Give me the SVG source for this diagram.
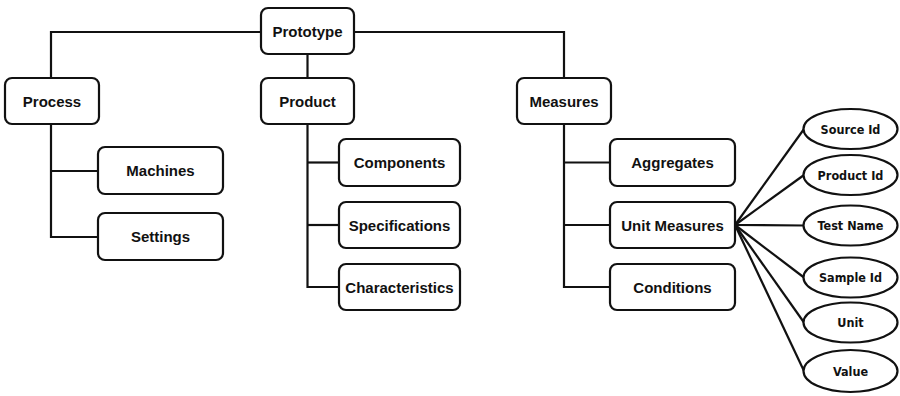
<svg xmlns="http://www.w3.org/2000/svg" width="900" height="396" viewBox="0 0 900 396">
<style>
.box{fill:#fff;stroke:#111;stroke-width:2.2}
.ell{fill:#fff;stroke:#111;stroke-width:2.2}
.lbl{font-family:"Liberation Sans",Arial,sans-serif;font-weight:bold;font-size:15px;fill:#111;text-anchor:middle;dominant-baseline:central}
.el{font-family:"DejaVu Sans Condensed","DejaVu Sans",Verdana,sans-serif;font-stretch:condensed;font-weight:bold;font-size:12.5px;fill:#111;text-anchor:middle;dominant-baseline:central}
.con{fill:none;stroke:#111;stroke-width:2.2}
</style>
<rect width="900" height="396" fill="#fff"/>
<g id="connectors" class="con">
<path d="M51,78 V32 H261"/>
<path d="M354,32 H564 V78"/>
<path d="M307.5,54 V78"/>
<path d="M51,124 V237 H98"/>
<path d="M51,171 H98"/>
<path d="M307.5,124 V287 H339"/>
<path d="M307.5,162.5 H339"/>
<path d="M307.5,225 H339"/>
<path d="M564,124 V287 H610"/>
<path d="M564,162.5 H610"/>
<path d="M564,225 H610"/>
<path d="M735,225 L804,129"/>
<path d="M735,225 L804,175"/>
<path d="M735,225 L804,225.5"/>
<path d="M735,225 L804,277.5"/>
<path d="M735,225 L804,322.5"/>
<path d="M735,225 L804,371"/>
</g>
<g id="prototype"><rect class="box" x="261" y="8" width="93" height="46" rx="7"/><text class="lbl" x="307.5" y="31">Prototype</text></g>
<g id="process"><rect class="box" x="5" y="78" width="94" height="46" rx="7"/><text class="lbl" x="52" y="101">Process</text></g>
<g id="product"><rect class="box" x="261" y="78" width="93" height="46" rx="7"/><text class="lbl" x="307.5" y="101">Product</text></g>
<g id="measures"><rect class="box" x="517" y="78" width="94" height="46" rx="7"/><text class="lbl" x="564" y="101">Measures</text></g>
<g id="machines"><rect class="box" x="98" y="147" width="125" height="47" rx="7"/><text class="lbl" x="160.5" y="170.5">Machines</text></g>
<g id="settings"><rect class="box" x="98" y="213" width="125" height="47" rx="7"/><text class="lbl" x="160.5" y="236.5">Settings</text></g>
<g id="components"><rect class="box" x="339" y="139" width="121" height="47" rx="7"/><text class="lbl" x="399.5" y="162.5">Components</text></g>
<g id="specifications"><rect class="box" x="339" y="202" width="121" height="46" rx="7"/><text class="lbl" x="399.5" y="225">Specifications</text></g>
<g id="characteristics"><rect class="box" x="339" y="264" width="121" height="46" rx="7"/><text class="lbl" x="399.5" y="287">Characteristics</text></g>
<g id="aggregates"><rect class="box" x="610" y="139" width="125" height="47" rx="7"/><text class="lbl" x="672.5" y="162.5">Aggregates</text></g>
<g id="unit-measures"><rect class="box" x="610" y="202" width="125" height="46" rx="7"/><text class="lbl" x="672.5" y="225">Unit Measures</text></g>
<g id="conditions"><rect class="box" x="610" y="264" width="125" height="46" rx="7"/><text class="lbl" x="672.5" y="287">Conditions</text></g>
<g id="source-id"><ellipse class="ell" cx="850.5" cy="129" rx="47" ry="20"/><text class="el" x="850.5" y="129">Source Id</text></g>
<g id="product-id"><ellipse class="ell" cx="850.5" cy="175" rx="47" ry="20"/><text class="el" x="850.5" y="175">Product Id</text></g>
<g id="test-name"><ellipse class="ell" cx="850.5" cy="225.5" rx="47" ry="20"/><text class="el" x="850.5" y="225.5">Test Name</text></g>
<g id="sample-id"><ellipse class="ell" cx="850.5" cy="277.5" rx="47" ry="20"/><text class="el" x="850.5" y="277.5">Sample Id</text></g>
<g id="unit"><ellipse class="ell" cx="850.5" cy="322.5" rx="47" ry="20"/><text class="el" x="850.5" y="322.5">Unit</text></g>
<g id="value"><ellipse class="ell" cx="850.5" cy="371" rx="47" ry="21"/><text class="el" x="850.5" y="371">Value</text></g>
</svg>
